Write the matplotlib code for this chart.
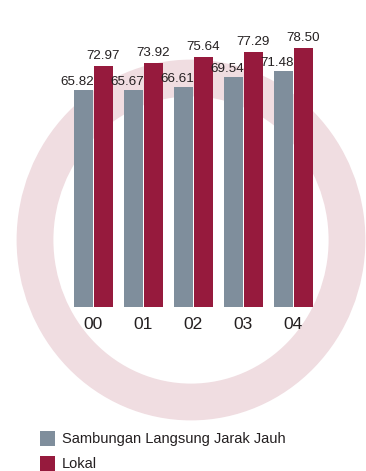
import matplotlib
matplotlib.use("Agg")
import matplotlib.pyplot as plt
from matplotlib.patches import Ellipse, Rectangle
import numpy as np

years = ["00", "01", "02", "03", "04"]
sljj = [65.82, 65.67, 66.61, 69.54, 71.48]
lokal = [72.97, 73.92, 75.64, 77.29, 78.50]
legend_labels = ["Sambungan Langsung Jarak Jauh", "Lokal"]

grey = "#7f8e9c"
red = "#961a3d"
pink = "#f0dde1"
txt = "#231f20"

plt.rcParams["font.family"] = ["Liberation Sans", "DejaVu Sans"]

W, H = 366, 471
fig = plt.figure(figsize=(W / 100, H / 100), dpi=100)

# background ring + legend, drawn in pixel coords
bg = fig.add_axes([0, 0, 1, 1], zorder=0)
bg.set_xlim(0, W)
bg.set_ylim(H, 0)
bg.axis("off")
bg.add_patch(Ellipse((191, 240), 2 * 156, 2 * 162, fill=False,
                     edgecolor=pink, linewidth=26.5))

for i, (lab, col) in enumerate(zip(legend_labels, [grey, red])):
    y0 = 431 + i * 25
    bg.add_patch(Rectangle((40, y0), 15, 15, facecolor=col, edgecolor="none"))
    bg.text(62, y0 + 7.5, lab, fontsize=10.5, color=txt, va="center", ha="left")

# bars
ax = fig.add_axes([68.5 / W, (H - 307) / H, 250 / W, 307 / H], zorder=1)
ax.patch.set_alpha(0)
x = np.arange(len(years))
w = 0.38
b1 = ax.bar(x - 0.2, sljj, w, color=grey)
b2 = ax.bar(x + 0.2, lokal, w, color=red)
ax.set_xlim(-0.5, 4.5)
ax.set_ylim(0, 93)

for rect, v in zip(b1, sljj):
    ax.annotate(f"{v:.2f}", (rect.get_x() + rect.get_width() + 0.02, v),
                xytext=(0, 1.5), textcoords="offset points",
                ha="right", va="bottom", fontsize=9.6, color=txt)
for rect, v in zip(b2, lokal):
    ax.annotate(f"{v:.2f}", (rect.get_x() + rect.get_width() / 2, v),
                xytext=(0, 3), textcoords="offset points",
                ha="center", va="bottom", fontsize=9.6, color=txt)

ax.set_xticks(x)
ax.set_xticklabels(years, fontsize=12.5, color=txt)
ax.tick_params(axis="x", length=0, pad=7)
ax.set_yticks([])
for s in ax.spines.values():
    s.set_visible(False)

fig.savefig("out.png", dpi=100)
